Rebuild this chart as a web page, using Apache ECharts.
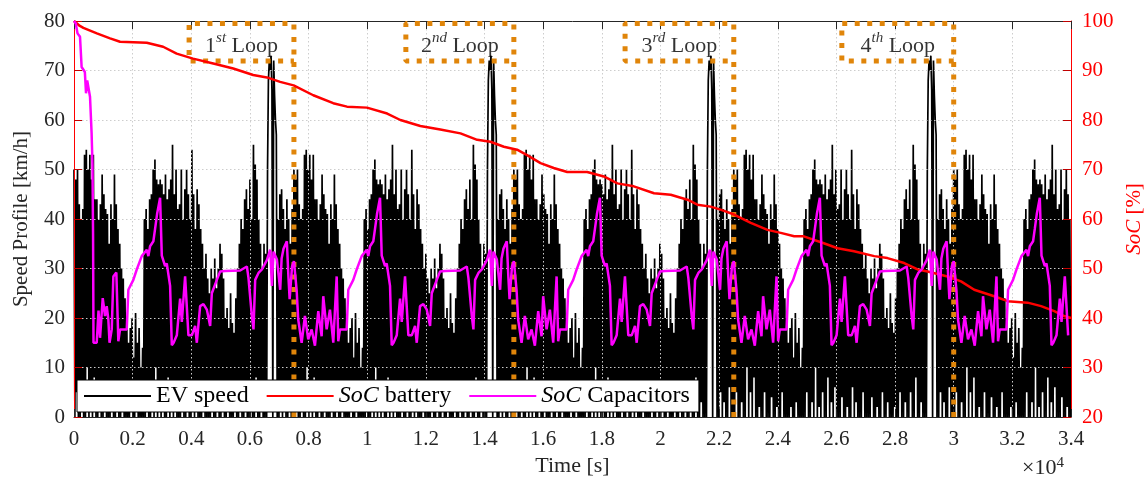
<!DOCTYPE html>
<html>
<head>
<meta charset="utf-8">
<script src="https://cdn.jsdelivr.net/npm/echarts/dist/echarts.min.js"></script>
<style>
  html, body { margin: 0; padding: 0; background: #fff; }
  #chart { width: 1145px; height: 482px; }
</style>
</head>
<body>
<div id="chart"></div>
<script>
// ---- data ----------------------------------------------------------------
const LOOP_LENGTH = 7500;   // one driving loop [s]
const SPEED_STEP = 30;      // spacing of the speed samples inside a loop [s]
const TIME_END = 34000;     // end of the simulation [s]

// EV speed over one loop [km/h], one sample every SPEED_STEP seconds
const speedLoop = [
  50, 0, 48, 5, 50,
  0, 43, 0, 40, 3, 42, 0,
  53, 0, 54, 10, 50, 0, 53, 5, 48, 0, 53, 8, 44,
  0, 44, 0, 40, 2, 43,
  0, 49, 0, 45, 5, 42, 0,
  41, 0, 35, 0, 43, 4, 40,
  0, 49, 0, 43, 2, 38,
  0, 35, 0, 30, 5, 28, 0, 24, 0, 20,
  0, 15, 0, 18, 2, 20, 0, 12, 0, 21, 3, 15, 0, 18, 0, 10, 0, 14,
  0, 40, 0, 42, 5, 38, 0, 44,
  0, 45, 3, 50, 0, 52, 10, 48, 0, 47, 2,
  48, 0, 47, 5, 45, 0, 49, 0, 44, 8, 46,
  0, 48, 3, 55, 0, 45, 6, 50, 0, 42, 0,
  43, 0, 50, 4, 40, 0, 46, 0, 50, 2, 45,
  0, 40, 0, 54, 6, 45, 0, 38, 3, 46, 0,
  43, 0, 38, 0, 35, 5, 30, 0, 33, 0, 28,
  0, 25, 0, 30, 4, 28, 0, 32, 0, 26, 2, 30, 0, 35, 0, 33, 5, 28,
  0, 20, 0, 22, 3, 18, 0, 25, 0, 19, 0, 17, 2, 24,
  0, 30, 0, 35, 5, 40, 0, 38, 0, 44, 3, 46, 0,
  42, 0, 48, 5, 40, 0, 55, 0, 51, 8, 48,
  0, 40, 0, 35, 3, 30, 0, 35, 0, 33,
  0, 50, 68, 72, 70, 73, 66, 0, 72, 65, 60, 57, 0,
  40, 0, 45, 5, 46, 0, 42, 3, 38, 0, 44, 0, 40, 6, 35, 0, 42, 0
];

// battery state of charge [time s, %]
const batterySoC = [
  [0, 100], [200, 99.0], [320, 98.6], [780, 97.5], [1230, 96.5], [1570, 95.8],
  [2480, 95.6], [3040, 94.8], [3500, 93.4], [4060, 92.4], [4750, 91.4], [5430, 90.4],
  [6110, 89.1], [6580, 88.6], [7030, 87.7], [7490, 87.0], [8160, 85.0], [8840, 83.4],
  [9310, 82.7], [9990, 82.5], [10680, 81.3], [11130, 80.0], [11810, 78.8], [12490, 78.1],
  [13180, 77.3], [13750, 76.0], [14200, 75.6], [14660, 74.6], [15110, 74.0], [15450, 72.9],
  [15910, 71.3], [16360, 70.3], [16820, 69.5], [17500, 69.5], [18070, 68.6], [18530, 67.2],
  [19090, 66.6], [19780, 65.2], [20350, 64.9], [20920, 63.9], [21260, 62.9], [21710, 62.5],
  [22050, 61.9], [22510, 60.9], [23080, 59.2], [23650, 57.8], [24100, 57.2], [24560, 56.5],
  [24890, 56.5], [25570, 55.1], [26040, 54.1], [26600, 53.5], [27290, 52.5], [27740, 52.1],
  [28310, 51.1], [28770, 49.8], [29110, 49.4], [29790, 48.4], [30250, 47.4], [30700, 45.7],
  [31380, 44.4], [31840, 43.4], [32520, 43.1], [32980, 42.4], [33430, 41.4], [33770, 40.4],
  [34000, 40.0]
];

// capacitor state of charge during the first loop start (from full charge) [time s, %]
const capFirstLoop = [
  [0, 100], [60, 99.5], [120, 97.5], [205, 96.8], [260, 90.7], [370, 89.7], [410, 85.4],
  [450, 88.0], [546, 84.7], [600, 77.4], [630, 71.0], [650, 57.0], [665, 35.0], [775, 35.0],
  [836, 41.5], [888, 36.0], [980, 44.0], [1058, 40.4], [1116, 42.4], [1171, 39.7],
  [1212, 35.0], [1287, 37.7], [1342, 48.4], [1444, 49.2], [1512, 35.3]
];

// capacitor state of charge over a loop [time from loop start s, %]
const capLoop = [
  [0, 51.5], [92, 45.7], [147, 39.7], [263, 35.0], [375, 40.4], [488, 35.7], [604, 37.7],
  [717, 34.4], [830, 41.4], [945, 36.3], [1000, 44.4], [1116, 37.7], [1229, 41.7],
  [1342, 35.0], [1458, 48.4], [1512, 35.3], [1570, 37.7], [1799, 37.7], [1854, 45.7],
  [2024, 47.7], [2140, 49.8], [2311, 52.5], [2482, 53.8], [2536, 52.5], [2595, 54.5],
  [2707, 55.5], [2765, 58.0], [2833, 61.0], [2936, 64.3], [2994, 52.6], [3048, 52.3],
  [3107, 50.5], [3164, 51.0], [3277, 46.5], [3335, 34.5], [3397, 35.0], [3506, 36.5],
  [3619, 43.9], [3677, 39.2], [3789, 48.4], [3902, 36.5], [4018, 36.5], [4131, 38.4],
  [4189, 35.0], [4301, 42.4], [4414, 42.8], [4530, 41.7], [4643, 38.4], [4700, 45.0],
  [4871, 47.7], [4984, 49.4], [5155, 49.5], [5667, 49.6], [5896, 50.4], [5950, 48.1],
  [6066, 40.4], [6121, 37.7], [6179, 47.7], [6292, 49.1], [6408, 49.8], [6578, 51.7],
  [6691, 53.8], [6749, 46.5], [6804, 53.4], [6920, 51.8], [6980, 52.0], [7032, 45.7],
  [7080, 52.0], [7145, 54.0], [7258, 55.5], [7312, 48.4], [7354, 43.8], [7436, 50.4]
];

// loop marker boxes
const loopEnds = [7500, 15000, 22500, 30000];
const loopBoxStarts = [3925, 11317, 18793, 26185];
const loopBoxTop = 79.5;
const loopBoxBottom = 71.9;
const loopLabelY = 75.4;
const loopNumbers = ['1', '2', '3', '4'];
const loopSuffixes = ['st', 'nd', 'rd', 'th'];

// axes
const xMin = 0, xMax = 34000, xStep = 2000, xScale = 1e4;
const speedMin = 0, speedMax = 80, speedStep = 10;
const socMin = 20, socMax = 100, socStep = 10;

// ---- series construction --------------------------------------------------
const speedData = [];
for (let start = 0; start < TIME_END; start += LOOP_LENGTH) {
  for (let i = 0; i < speedLoop.length; i++) {
    const t = start + i * SPEED_STEP;
    if (t > TIME_END) break;
    speedData.push([t, speedLoop[i]]);
  }
}

const capData = capFirstLoop.slice();
const firstLoopLast = capFirstLoop[capFirstLoop.length - 1][0];
for (let k = 0; k * LOOP_LENGTH < TIME_END; k++) {
  capLoop.forEach(([rel, v]) => {
    if (k === 0 && rel <= firstLoopLast) return;
    const t = k * LOOP_LENGTH + rel;
    if (t <= TIME_END) capData.push([t, v]);
  });
}

const SERIF = "'Liberation Serif', 'DejaVu Serif', serif";
const TXT = '#262626';
const ORANGE = '#E0850A';

const loopSeries = loopEnds.map((end, k) => ({
  type: 'line',
  name: 'loop' + (k + 1),
  xAxisIndex: 0, yAxisIndex: 0,
  showSymbol: false, symbol: 'none',
  silent: true,
  z: 4,
  lineStyle: { color: ORANGE, width: 5, type: [5, 7.5], cap: 'butt' },
  data: [[end, speedMin], [end, loopBoxTop], [loopBoxStarts[k], loopBoxTop],
         [loopBoxStarts[k], loopBoxBottom], [end, loopBoxBottom]]
}));

const loopLabelSeries = {
  type: 'scatter',
  name: 'loopLabels',
  xAxisIndex: 0, yAxisIndex: 0,
  symbolSize: 0,
  silent: true,
  z: 6,
  data: loopEnds.map((end, k) => ({
    value: [(end + loopBoxStarts[k]) / 2, loopLabelY],
    label: { formatter: '{n|' + loopNumbers[k] + '}{s|' + loopSuffixes[k] + '}{n| Loop}' }
  })),
  label: {
    show: true, position: 'inside',
    rich: {
      n: { fontFamily: SERIF, fontSize: 22, color: '#000', lineHeight: 26, verticalAlign: 'bottom' },
      s: { fontFamily: SERIF, fontSize: 15, fontStyle: 'italic', color: '#000', lineHeight: 26, verticalAlign: 'top' }
    }
  }
};

const chart = echarts.init(document.getElementById('chart'), null, { renderer: 'canvas' });

const splitStyle = { show: true, lineStyle: { color: '#cdcdcd', width: 1, type: [1.5, 2.5] } };

chart.setOption({
  animation: false,
  backgroundColor: '#fff',
  grid: { left: 74, right: 74, top: 21, bottom: 65, containLabel: false, outerBoundsMode: 'none' },
  legend: {
    data: ['EV speed', 'SoC battery', 'SoC Capacitors'],
    left: 77, top: 380,
    icon: 'rect', itemWidth: 67, itemHeight: 2, itemGap: 18,
    padding: [4, 9, 4, 7],
    backgroundColor: '#fff', borderColor: '#000', borderWidth: 1, borderRadius: 0,
    z: 20,
    selectedMode: false,
    formatter: name => name.replace('SoC', '{i|SoC}'),
    textStyle: {
      fontFamily: SERIF, fontSize: 24, color: '#000',
      rich: { i: { fontFamily: SERIF, fontSize: 24, fontStyle: 'italic', color: '#000' } }
    }
  },
  xAxis: [
    {
      type: 'value', min: xMin, max: xMax, interval: xStep, position: 'bottom', z: 3,
      axisLine: { show: true, onZero: false, lineStyle: { color: TXT, width: 1 } },
      axisTick: { show: true, inside: true, length: 8, lineStyle: { color: TXT } },
      axisLabel: { formatter: v => String(v / xScale), fontFamily: SERIF, fontSize: 21, color: TXT, margin: 12 },
      splitLine: splitStyle,
      name: 'Time [s]', nameLocation: 'middle', nameGap: 37,
      nameTextStyle: { fontFamily: SERIF, fontSize: 22, color: TXT }
    },
    {
      type: 'value', min: xMin, max: xMax, interval: xStep, position: 'top', z: 3,
      axisLine: { show: true, onZero: false, lineStyle: { color: TXT, width: 1 } },
      axisTick: { show: true, inside: true, length: 8, lineStyle: { color: TXT } },
      axisLabel: { show: false },
      splitLine: { show: false }
    }
  ],
  yAxis: [
    {
      type: 'value', min: speedMin, max: speedMax, interval: speedStep, position: 'left', z: 3,
      axisLine: { show: true, onZero: false, lineStyle: { color: '#ff0000', width: 1 } },
      axisTick: { show: true, inside: true, length: 8, lineStyle: { color: '#c00000' } },
      axisLabel: { fontFamily: SERIF, fontSize: 21, color: TXT, margin: 9 },
      splitLine: splitStyle,
      name: 'Speed Profile [km/h]', nameLocation: 'middle', nameGap: 42, nameRotate: 90,
      nameTextStyle: { fontFamily: SERIF, fontSize: 21, color: TXT }
    },
    {
      type: 'value', min: socMin, max: socMax, interval: socStep, position: 'right', z: 3,
      axisLine: { show: true, onZero: false, lineStyle: { color: '#ff0000', width: 1 } },
      axisTick: { show: true, inside: true, length: 8, lineStyle: { color: '#c00000' } },
      axisLabel: { fontFamily: SERIF, fontSize: 21, color: '#ff0000', margin: 11 },
      splitLine: { show: false },
      name: '{i|SoC} [%]', nameLocation: 'middle', nameGap: 48, nameRotate: 90,
      nameTextStyle: {
        fontFamily: SERIF, fontSize: 21, color: '#ff0000',
        rich: { i: { fontFamily: SERIF, fontSize: 21, fontStyle: 'italic', color: '#ff0000' } }
      }
    }
  ],
  series: [
    {
      type: 'line', name: 'EV speed', xAxisIndex: 0, yAxisIndex: 0,
      data: speedData, showSymbol: false, symbol: 'none', z: 2,
      lineStyle: { color: '#000', width: 1.7 }, itemStyle: { color: '#000' }
    },
    ...loopSeries,
    {
      type: 'line', name: 'SoC battery', xAxisIndex: 0, yAxisIndex: 1,
      data: batterySoC, showSymbol: false, symbol: 'none', z: 5,
      lineStyle: { color: '#ff0000', width: 2.5 }, itemStyle: { color: '#ff0000' }
    },
    {
      type: 'line', name: 'SoC Capacitors', xAxisIndex: 0, yAxisIndex: 1,
      data: capData, showSymbol: false, symbol: 'none', z: 5,
      lineStyle: { color: '#ff00ff', width: 2.5 }, itemStyle: { color: '#ff00ff' }
    },
    loopLabelSeries
  ],
  graphic: [
    {
      type: 'text', left: 1022, top: 456, z: 10,
      style: {
        text: '×10{sup|4}',
        fontFamily: SERIF, fontSize: 22, fill: TXT,
        rich: { sup: { fontFamily: SERIF, fontSize: 15, fill: TXT, verticalAlign: 'top', lineHeight: 24 } }
      }
    }
  ]
});
</script>
</body>
</html>
